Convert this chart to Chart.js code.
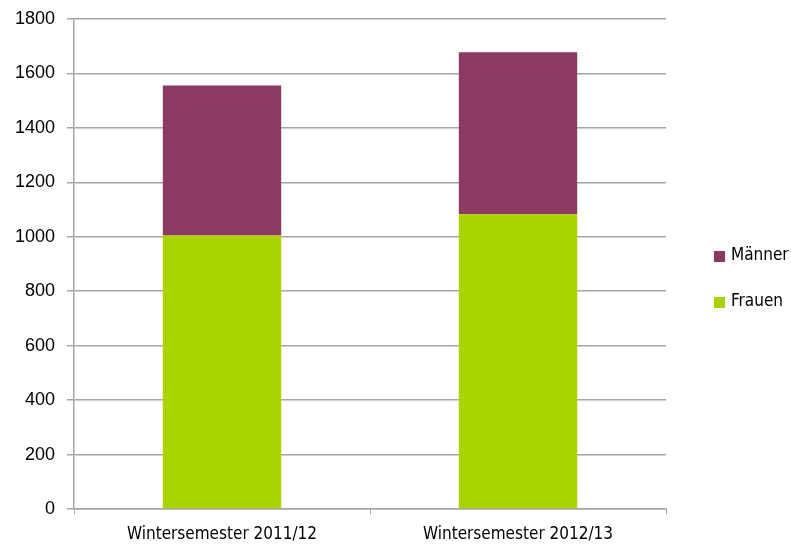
<!DOCTYPE html>
<html>
<head>
<meta charset="utf-8">
<script src="https://cdn.jsdelivr.net/npm/chart.js@4"></script>
<style>
  html, body { margin: 0; padding: 0; background: #fff; }
  #wrap { width: 791px; height: 547px; }
</style>
</head>
<body>
<div id="wrap"><canvas id="chart" width="791" height="547"></canvas></div>
<script>
// Daten
const semester = ['Wintersemester 2011/12', 'Wintersemester 2012/13'];
const frauen = [1005, 1083];
const maenner = [551, 595];
const yTicks = [0, 200, 400, 600, 800, 1000, 1200, 1400, 1600, 1800];

const farbeMaenner = '#8C3A62';
const farbeFrauen = '#AAD400';
const grau = '#A6A6A6';
const schriftSchmal = '"DejaVu Sans Condensed", "DejaVu Sans", sans-serif';

// Legende rechts, Männer oben, Frauen unten
const legendePlugin = {
    id: 'legendeRechts',
    afterDraw(chart) {
        const ctx = chart.ctx;
        const eintraege = chart.data.datasets.slice().reverse();
        ctx.save();
        ctx.font = '17px ' + schriftSchmal;
        ctx.textBaseline = 'middle';
        eintraege.forEach((ds, i) => {
            const y = 256 + i * 46;
            ctx.fillStyle = ds.backgroundColor;
            ctx.fillRect(714, y - 5, 11, 11);
            ctx.fillStyle = '#000';
            ctx.fillText(ds.label, 731, y);
        });
        ctx.restore();
    }
};

new Chart(document.getElementById('chart'), {
    type: 'bar',
    data: {
        labels: semester,
        datasets: [
            { label: 'Frauen', data: frauen, backgroundColor: farbeFrauen },
            { label: 'Männer', data: maenner, backgroundColor: farbeMaenner }
        ]
    },
    options: {
        responsive: false,
        animation: false,
        devicePixelRatio: 1,
        layout: { padding: { top: 19, right: 125, left: 0, bottom: 0 } },
        plugins: {
            legend: { display: false },
            tooltip: { enabled: false }
        },
        datasets: {
            bar: { categoryPercentage: 0.4, barPercentage: 1.0 }
        },
        scales: {
            x: {
                stacked: true,
                afterFit(scale) {
                    scale.height = 38;
                },
                grid: {
                    display: true,
                    drawOnChartArea: false,
                    offset: true,
                    color: grau,
                    tickLength: 5
                },
                border: { color: grau, width: 1.5 },
                ticks: {
                    color: '#000',
                    font: { family: schriftSchmal, size: 17 },
                    padding: 10
                }
            },
            y: {
                stacked: true,
                min: 0,
                max: 1800,
                afterBuildTicks(scale) {
                    scale.ticks = yTicks.map(v => ({ value: v }));
                },
                afterFit(scale) {
                    scale.width = 74;
                    scale.paddingTop = 0;
                    scale.paddingBottom = 0;
                },
                grid: {
                    color: grau,
                    lineWidth: 1.5,
                    tickLength: 7
                },
                border: { color: grau, width: 1.5 },
                ticks: {
                    color: '#000',
                    font: { family: '"Liberation Sans", Arial, sans-serif', size: 18 },
                    padding: 12,
                    callback: v => String(v)
                }
            }
        }
    },
    plugins: [legendePlugin]
});
</script>
</body>
</html>
